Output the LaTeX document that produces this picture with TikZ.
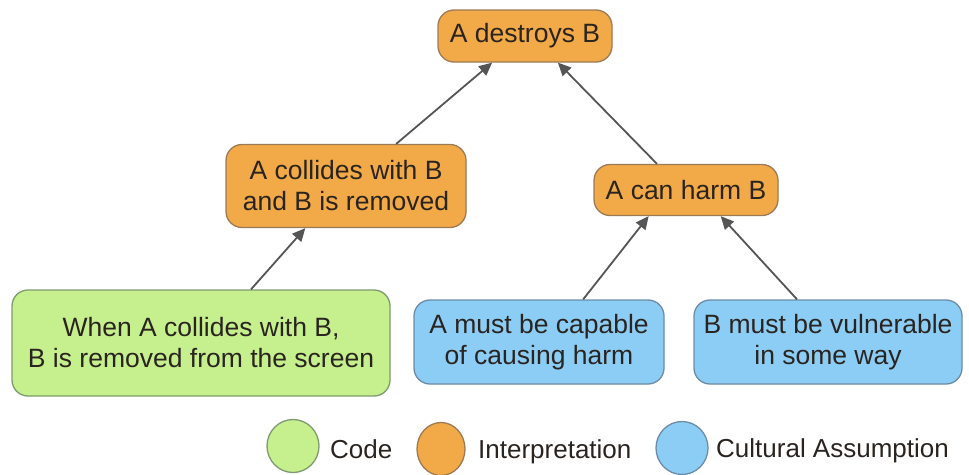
\documentclass[tikz,border=0pt]{standalone}
\usepackage{fontspec}
\setmainfont{Liberation Sans}
\usetikzlibrary{arrows.meta,shapes.geometric}
\definecolor{orfill}{HTML}{F2A947}
\definecolor{ordraw}{HTML}{9C7A55}
\definecolor{grfill}{HTML}{C6F08E}
\definecolor{grdraw}{HTML}{7F9A6E}
\definecolor{blfill}{HTML}{8CCDF5}
\definecolor{bldraw}{HTML}{6C8CA6}
\definecolor{txt}{HTML}{2A2420}
\definecolor{arr}{HTML}{555555}
\tikzset{
  box/.style={rectangle, rounded corners=16pt, line width=1.3pt, align=center,
    font=\fontsize{26.5}{31}\selectfont, text=txt, inner sep=0pt},
  interp/.style={box, fill=orfill, draw=ordraw},
  codebox/.style={box, fill=grfill, draw=grdraw},
  cultbox/.style={box, fill=blfill, draw=bldraw},
  legdot/.style={ellipse, minimum width=52pt, minimum height=53pt, line width=1.3pt, inner sep=0pt},
  legtxt/.style={anchor=west, font=\fontsize{26}{30}\selectfont, text=txt, inner sep=0pt},
  link/.style={draw=arr, line width=1.8pt, -{Triangle[length=13pt,width=12pt]}}
}
\begin{document}
\begin{tikzpicture}[x=1pt,y=-1pt]
\useasboundingbox[fill=white] (0,0) rectangle (969,474);
\node[interp, minimum width=174pt, minimum height=52pt] (dest) at (525,36) {A destroys B};
\node[interp, minimum width=240pt, minimum height=83pt] (coll) at (346,186) {A collides with B\\and B is removed};
\node[interp, minimum width=184pt, minimum height=51pt] (harm) at (686,190) {A can harm B};
\node[codebox, minimum width=378pt, minimum height=106pt] (code) at (201,343) {When A collides with B,\\B is removed from the screen};
\node[cultbox, minimum width=250pt, minimum height=84pt] (capa) at (539,342) {A must be capable\\of causing harm};
\node[cultbox, minimum width=268pt, minimum height=84pt] (vuln) at (828,342) {B must be vulnerable\\in some way};
\draw[link] (coll.40) -- (dest.219);
\draw[link] (harm.138) -- (dest.321);
\draw[link] (code.47) -- (coll.226);
\draw[link] (capa.44) -- (harm.215);
\draw[link] (vuln.126) -- (harm.323);
\node[legdot, fill=grfill, draw=grdraw] (lg) at (293,446) {};
\node[legtxt] (lgt) at (330,449) {Code};
\node[legdot, fill=orfill, draw=ordraw, minimum width=48pt] (lo) at (441,449) {};
\node[legtxt] (lot) at (478,452) {Interpretation};
\node[legdot, fill=blfill, draw=bldraw] (lb) at (682,448) {};
\node[legtxt] (lbt) at (716,451) {Cultural Assumption};
\end{tikzpicture}
\end{document}
